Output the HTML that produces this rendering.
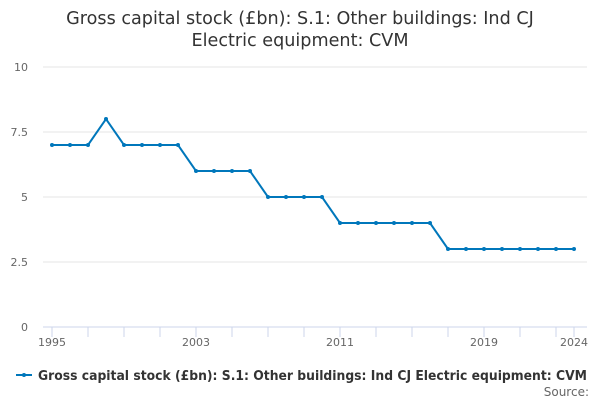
<!DOCTYPE html>
<html><head><meta charset="utf-8"><style>
body{margin:0;width:600px;height:400px;background:#fff;font-family:"DejaVu Sans","Liberation Sans",sans-serif;overflow:hidden}
svg{display:block}
</style></head><body>
<svg id="chart" width="600" height="400">
<text x="300" y="24" text-anchor="middle" font-size="17.6" fill="#333"><tspan x="300">Gross capital stock (£bn): S.1: Other buildings: Ind CJ</tspan><tspan x="300" dy="22">Electric equipment: CVM</tspan></text>
<g id="grid"></g><g id="xaxis"></g><g id="series"></g>
<g>
<line x1="16" y1="375" x2="32" y2="375" stroke="#0077bb" stroke-width="2"/>
<circle cx="24" cy="375" r="2" fill="#0077bb"/>
<text x="38" y="380" font-size="13" font-weight="bold" fill="#333" textLength="549" lengthAdjust="spacingAndGlyphs">Gross capital stock (£bn): S.1: Other buildings: Ind CJ Electric equipment: CVM</text>
</g>
<text x="589" y="396" text-anchor="end" font-size="12" fill="#666">Source:</text>
</svg>
<script>
const years=[1995,1996,1997,1998,1999,2000,2001,2002,2003,2004,2005,2006,2007,2008,2009,2010,2011,2012,2013,2014,2015,2016,2017,2018,2019,2020,2021,2022,2023,2024];
const values=[7,7,7,8,7,7,7,7,6,6,6,6,5,5,5,5,4,4,4,4,4,4,3,3,3,3,3,3,3,3];
const yTicks=[0,2.5,5,7.5,10];
const yTickLabels=["0","2.5","5","7.5","10"];
const xLabelYears=[1995,2003,2011,2019,2024];
const NS="http://www.w3.org/2000/svg";
const x=v=>52+(v-1995)*18;
const y=v=>327-v*26;
function mk(t,a,p){const e=document.createElementNS(NS,t);for(const k in a)e.setAttribute(k,a[k]);p.appendChild(e);return e;}
const grid=document.getElementById('grid');
yTicks.forEach((t,i)=>{
 const l=mk('line',{x1:43,x2:587,y1:y(t),y2:y(t),stroke:t===0?'#ccd6eb':'#e6e6e6','stroke-width':1},grid);
 
 
 const tx=mk('text',{x:28,y:y(t)+4,'text-anchor':'end','font-size':11,fill:'#666'},grid);
 tx.textContent=yTickLabels[i];
 
 
});
const xa=document.getElementById('xaxis');
years.forEach(yr=>{
 if((yr-1995)%2===0||yr===2024){
  const l=mk('line',{x1:x(yr),x2:x(yr),y1:327,y2:337,stroke:'#ccd6eb'},xa);
  
  
 }
});
xLabelYears.forEach(yr=>{
 const tx=mk('text',{x:x(yr),y:346,'text-anchor':'middle','font-size':11,fill:'#666'},xa);
 tx.textContent=yr;
 
 
});
const s=document.getElementById('series');
const pl=mk('polyline',{points:years.map((yr,i)=>x(yr)+','+y(values[i])).join(' '),fill:'none',stroke:'#0077bb','stroke-width':2},s);


years.forEach((yr,i)=>{
 const c=mk('circle',{cx:x(yr),cy:y(values[i]),r:2,fill:'#0077bb'},s);
 
 
});
</script>
</body></html>
